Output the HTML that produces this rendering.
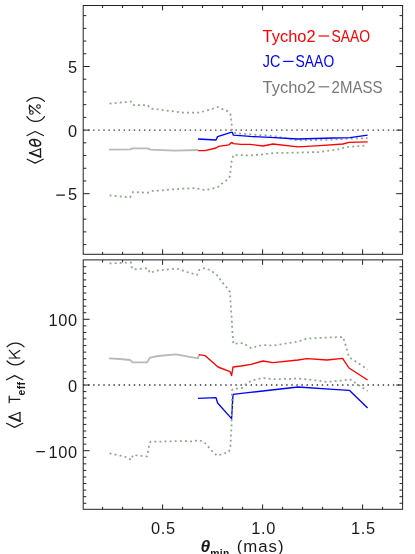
<!DOCTYPE html>
<html><head><meta charset="utf-8"><title>plot</title>
<style>html,body{margin:0;padding:0;background:#fff;}svg{display:block;will-change:transform;}text{font-family:"Liberation Sans",sans-serif;}</style>
</head><body>
<svg width="415" height="554" viewBox="0 0 415 554">
<rect width="415" height="554" fill="#fff"/>
<line x1="83.0" y1="130.1" x2="402.6" y2="130.1" stroke="#333" stroke-width="1.3" stroke-dasharray="1.4 3.68"/>
<line x1="83.0" y1="385.0" x2="402.6" y2="385.0" stroke="#333" stroke-width="1.3" stroke-dasharray="1.4 3.68"/>
<polyline points="109.6,103.6 131.0,101.6 132.6,105.0 147.6,105.0 150.6,108.6 158.0,109.4 183.0,112.6 199.0,112.6 205.0,111.0 211.0,109.4 218.0,107.0 223.0,109.4 228.0,111.4 230.4,114.0 231.6,122.0 231.9,130.0 233.0,132.6 240.0,133.6 250.0,134.4 274.0,136.0 284.0,138.0 298.0,140.4 333.0,139.6 350.0,138.6 367.6,138.2" fill="none" stroke="#88a688" stroke-width="1.75" stroke-dasharray="1.9 3.2" stroke-linejoin="round"/>
<polyline points="109.6,195.4 130.0,197.4 133.0,192.0 147.6,192.8 151.0,191.0 158.0,190.6 183.0,188.6 195.0,188.0 199.0,189.0 205.0,190.0 211.0,189.0 218.0,187.0 223.0,182.6 228.0,179.4 230.0,176.0 231.0,166.0 232.0,159.0 233.4,155.0 250.0,155.4 263.0,154.4 274.0,153.0 298.0,152.6 320.0,152.0 338.0,149.4 346.0,147.0 367.6,145.4" fill="none" stroke="#88a688" stroke-width="1.75" stroke-dasharray="1.9 3.2" stroke-linejoin="round"/>
<polyline points="109.0,149.6 130.0,149.4 132.6,148.4 147.6,148.4 150.4,149.6 175.0,150.6 198.0,150.0" fill="none" stroke="#bab8ba" stroke-width="1.8" stroke-linejoin="round" stroke-linecap="butt"/>
<polyline points="198.0,150.6 205.0,150.6 216.0,148.0 218.6,146.4 229.0,144.8 231.6,142.4 233.4,143.6 241.0,144.4 250.0,144.4 263.0,146.0 273.0,144.0 298.0,146.8 320.0,145.6 343.0,144.0 349.0,142.4 367.6,141.8" fill="none" stroke="#ff0000" stroke-width="1.35" stroke-linejoin="round" stroke-linecap="butt"/>
<polyline points="198.0,139.0 216.0,140.0 217.6,136.6 231.0,132.4 232.4,132.4 233.4,135.2 250.0,136.4 270.0,137.4 298.0,139.0 333.0,138.0 350.0,137.6 367.6,135.2" fill="none" stroke="#0000ff" stroke-width="1.35" stroke-linejoin="round" stroke-linecap="butt"/>
<polyline points="109.0,358.4 120.0,359.0 130.0,360.0 132.6,362.4 147.0,362.4 150.0,357.6 158.0,356.0 176.0,354.4 198.0,358.4 199.0,354.6" fill="none" stroke="#bab8ba" stroke-width="1.8" stroke-linejoin="round" stroke-linecap="butt"/>
<polyline points="199.0,354.6 205.0,355.6 218.0,367.0 230.0,371.6 231.6,375.6 233.0,367.0 241.0,366.0 251.0,364.4 263.0,361.0 273.0,362.6 298.0,360.0 307.0,358.6 327.0,360.0 342.6,358.4 349.0,368.0 367.6,380.0" fill="none" stroke="#ff0000" stroke-width="1.35" stroke-linejoin="round" stroke-linecap="butt"/>
<polyline points="198.0,398.4 216.0,397.6 217.6,403.0 231.6,418.6 233.0,394.4 250.0,392.4 298.0,387.0 333.0,389.4 349.6,390.4 367.6,408.0" fill="none" stroke="#0000ff" stroke-width="1.35" stroke-linejoin="round" stroke-linecap="butt"/>
<polyline points="109.6,263.4 131.0,262.4 131.6,267.0 133.0,269.4 147.6,268.2 150.0,273.0 156.0,270.6 168.0,269.4 177.0,268.6 187.0,272.0 197.0,275.0 199.0,270.0 205.0,268.0 211.0,270.6 217.0,275.0 222.0,282.0 228.0,289.0 230.0,292.0 230.6,303.0 231.6,317.0 232.6,335.0 233.4,344.0 239.0,343.0 243.0,343.0 251.0,348.0 258.0,346.0 263.0,345.0 273.0,345.6 298.0,341.6 307.0,338.6 327.0,337.6 343.0,337.0 345.0,343.0 349.0,357.0 358.0,363.0 367.6,369.4" fill="none" stroke="#88a688" stroke-width="1.75" stroke-dasharray="1.9 3.2" stroke-linejoin="round"/>
<polyline points="109.6,453.4 120.0,455.6 128.0,457.6 131.0,460.0 133.0,455.0 147.0,456.4 148.0,451.0 149.0,446.0 150.6,441.6 158.0,441.6 183.0,441.0 193.0,441.4 199.0,440.0 205.0,443.0 212.0,451.0 217.0,455.6 223.0,454.0 229.0,451.6 230.4,446.0 231.6,424.0 232.0,390.0 234.0,388.6 239.0,388.6 243.0,387.6 246.0,384.0 251.0,381.0 258.0,379.0 263.0,378.0 273.0,379.2 298.0,378.6 307.0,379.2 327.0,382.0 343.0,380.4 349.6,379.2 354.0,382.0 362.0,387.4 367.6,391.0" fill="none" stroke="#88a688" stroke-width="1.75" stroke-dasharray="1.9 3.2" stroke-linejoin="round"/>
<rect x="83.2" y="5.5" width="319.40000000000003" height="248.8" fill="none" stroke="#222" stroke-width="1"/>
<rect x="83.2" y="259.9" width="319.40000000000003" height="249.40000000000003" fill="none" stroke="#222" stroke-width="1"/>
<path d="M102.6,5.5v2.5M102.6,254.3v-2.5M122.6,5.5v2.5M122.6,254.3v-2.5M142.6,5.5v2.5M142.6,254.3v-2.5M162.6,5.5v4.9M162.6,254.3v-4.9M182.6,5.5v2.5M182.6,254.3v-2.5M202.6,5.5v2.5M202.6,254.3v-2.5M222.6,5.5v2.5M222.6,254.3v-2.5M242.6,5.5v2.5M242.6,254.3v-2.5M262.6,5.5v4.9M262.6,254.3v-4.9M282.6,5.5v2.5M282.6,254.3v-2.5M302.6,5.5v2.5M302.6,254.3v-2.5M322.6,5.5v2.5M322.6,254.3v-2.5M342.6,5.5v2.5M342.6,254.3v-2.5M362.6,5.5v4.9M362.6,254.3v-4.9M382.6,5.5v2.5M382.6,254.3v-2.5M102.6,259.9v2.5M102.6,509.3v-2.5M122.6,259.9v2.5M122.6,509.3v-2.5M142.6,259.9v2.5M142.6,509.3v-2.5M162.6,259.9v4.9M162.6,509.3v-4.9M182.6,259.9v2.5M182.6,509.3v-2.5M202.6,259.9v2.5M202.6,509.3v-2.5M222.6,259.9v2.5M222.6,509.3v-2.5M242.6,259.9v2.5M242.6,509.3v-2.5M262.6,259.9v4.9M262.6,509.3v-4.9M282.6,259.9v2.5M282.6,509.3v-2.5M302.6,259.9v2.5M302.6,509.3v-2.5M322.6,259.9v2.5M322.6,509.3v-2.5M342.6,259.9v2.5M342.6,509.3v-2.5M362.6,259.9v4.9M362.6,509.3v-4.9M382.6,259.9v2.5M382.6,509.3v-2.5M83.2,244.58h3.1M402.6,244.58h-3.1M83.2,231.86h3.1M402.6,231.86h-3.1M83.2,219.14h3.1M402.6,219.14h-3.1M83.2,206.42h3.1M402.6,206.42h-3.1M83.2,193.70h6.4M402.6,193.70h-6.4M83.2,180.98h3.1M402.6,180.98h-3.1M83.2,168.26h3.1M402.6,168.26h-3.1M83.2,155.54h3.1M402.6,155.54h-3.1M83.2,142.82h3.1M402.6,142.82h-3.1M83.2,130.10h6.4M402.6,130.10h-6.4M83.2,117.38h3.1M402.6,117.38h-3.1M83.2,104.66h3.1M402.6,104.66h-3.1M83.2,91.94h3.1M402.6,91.94h-3.1M83.2,79.22h3.1M402.6,79.22h-3.1M83.2,66.50h6.4M402.6,66.50h-6.4M83.2,53.78h3.1M402.6,53.78h-3.1M83.2,41.06h3.1M402.6,41.06h-3.1M83.2,28.34h3.1M402.6,28.34h-3.1M83.2,15.62h3.1M402.6,15.62h-3.1M83.2,503.26h3.1M402.6,503.26h-3.1M83.2,496.69h3.1M402.6,496.69h-3.1M83.2,490.12h3.1M402.6,490.12h-3.1M83.2,483.55h3.1M402.6,483.55h-3.1M83.2,476.98h3.1M402.6,476.98h-3.1M83.2,470.41h3.1M402.6,470.41h-3.1M83.2,463.84h3.1M402.6,463.84h-3.1M83.2,457.27h3.1M402.6,457.27h-3.1M83.2,450.70h6.4M402.6,450.70h-6.4M83.2,444.13h3.1M402.6,444.13h-3.1M83.2,437.56h3.1M402.6,437.56h-3.1M83.2,430.99h3.1M402.6,430.99h-3.1M83.2,424.42h3.1M402.6,424.42h-3.1M83.2,417.85h3.1M402.6,417.85h-3.1M83.2,411.28h3.1M402.6,411.28h-3.1M83.2,404.71h3.1M402.6,404.71h-3.1M83.2,398.14h3.1M402.6,398.14h-3.1M83.2,391.57h3.1M402.6,391.57h-3.1M83.2,385.00h6.4M402.6,385.00h-6.4M83.2,378.43h3.1M402.6,378.43h-3.1M83.2,371.86h3.1M402.6,371.86h-3.1M83.2,365.29h3.1M402.6,365.29h-3.1M83.2,358.72h3.1M402.6,358.72h-3.1M83.2,352.15h3.1M402.6,352.15h-3.1M83.2,345.58h3.1M402.6,345.58h-3.1M83.2,339.01h3.1M402.6,339.01h-3.1M83.2,332.44h3.1M402.6,332.44h-3.1M83.2,325.87h3.1M402.6,325.87h-3.1M83.2,319.30h6.4M402.6,319.30h-6.4M83.2,312.73h3.1M402.6,312.73h-3.1M83.2,306.16h3.1M402.6,306.16h-3.1M83.2,299.59h3.1M402.6,299.59h-3.1M83.2,293.02h3.1M402.6,293.02h-3.1M83.2,286.45h3.1M402.6,286.45h-3.1M83.2,279.88h3.1M402.6,279.88h-3.1M83.2,273.31h3.1M402.6,273.31h-3.1M83.2,266.74h3.1M402.6,266.74h-3.1" fill="none" stroke="#222" stroke-width="1"/>
<text x="77.9" y="72.7" font-size="16.4" text-anchor="end" fill="#1a1a1a" letter-spacing="0.7">5</text>
<text x="77.9" y="136.6" font-size="16.4" text-anchor="end" fill="#1a1a1a" letter-spacing="0.7">0</text>
<text x="77.9" y="200.4" font-size="16.4" text-anchor="end" fill="#1a1a1a" letter-spacing="0.7">5</text>
<text x="77.9" y="326.2" font-size="16.4" text-anchor="end" fill="#1a1a1a" letter-spacing="0.7">100</text>
<text x="77.9" y="392.1" font-size="16.4" text-anchor="end" fill="#1a1a1a" letter-spacing="0.7">0</text>
<text x="77.9" y="457.6" font-size="16.4" text-anchor="end" fill="#1a1a1a" letter-spacing="0.7">100</text>
<path d="M56.3,195.1H64.9M36.3,451.6H44.9" stroke="#1a1a1a" stroke-width="1.25" fill="none"/>
<text x="163.4" y="533.5" font-size="16.4" text-anchor="middle" fill="#1a1a1a" letter-spacing="0.7">0.5</text>
<text x="263.6" y="533.5" font-size="16.4" text-anchor="middle" fill="#1a1a1a" letter-spacing="0.7">1.0</text>
<text x="363.4" y="533.5" font-size="16.4" text-anchor="middle" fill="#1a1a1a" letter-spacing="0.7">1.5</text>
<text x="262.6" y="41.7" font-size="16.6" fill="#ff0000" textLength="53.0" lengthAdjust="spacingAndGlyphs">Tycho2</text>
<line x1="318.6" y1="36.0" x2="329.2" y2="36.0" stroke="#ff0000" stroke-width="1.2"/>
<text x="331.4" y="41.7" font-size="16.6" fill="#ff0000" textLength="38.6" lengthAdjust="spacingAndGlyphs">SAAO</text>
<text x="262.8" y="67.1" font-size="16.6" fill="#0000ff" textLength="17.6" lengthAdjust="spacingAndGlyphs">JC</text>
<line x1="283.2" y1="61.39999999999999" x2="293.6" y2="61.39999999999999" stroke="#0000ff" stroke-width="1.2"/>
<text x="295.6" y="67.1" font-size="16.6" fill="#0000ff" textLength="38.6" lengthAdjust="spacingAndGlyphs">SAAO</text>
<text x="262.6" y="92.5" font-size="16.6" fill="#787878" textLength="53.0" lengthAdjust="spacingAndGlyphs">Tycho2</text>
<line x1="318.6" y1="86.8" x2="329.2" y2="86.8" stroke="#787878" stroke-width="1.2"/>
<text x="331.6" y="92.5" font-size="16.6" fill="#787878" textLength="50.8" lengthAdjust="spacingAndGlyphs">2MASS</text>
<text x="200.4" y="552.4" font-size="17.4" fill="#1a1a1a"><tspan font-weight="bold" font-style="italic">&#952;</tspan><tspan font-size="10.4" font-weight="bold" dy="4.6" dx="0.2" letter-spacing="0.3">min</tspan><tspan font-size="16.8" dy="-4.6" dx="7.0" letter-spacing="1.0">(mas)</tspan></text>
<path d="M26.9,101.4A12.1,12.1 0 0 1 44.5,101.4" fill="none" stroke="#1a1a1a" stroke-width="1.2" stroke-linecap="round" stroke-linejoin="round" />
<path d="M29.6,105.2L40,113.6M29.6,105.2Q28.6,109 30.2,111" fill="none" stroke="#1a1a1a" stroke-width="1.2" stroke-linecap="round" stroke-linejoin="round" />
<circle cx="38.5" cy="106.5" r="1.8" fill="none" stroke="#1a1a1a" stroke-width="1.15"/>
<circle cx="31.4" cy="112.5" r="1.8" fill="none" stroke="#1a1a1a" stroke-width="1.15"/>
<path d="M26.9,116.6A10.5,10.5 0 0 0 44.5,116.6" fill="none" stroke="#1a1a1a" stroke-width="1.2" stroke-linecap="round" stroke-linejoin="round" />
<path d="M27.1,135.5L35.1,131.5L43.4,135.5" fill="none" stroke="#1a1a1a" stroke-width="1.2" stroke-linecap="round" stroke-linejoin="round" />
<ellipse cx="35.1" cy="142.8" rx="5.6" ry="3.1" fill="none" stroke="#1a1a1a" stroke-width="1.6" transform="rotate(12 35.1 142.8)"/>
<path d="M33.9,139.6L35.6,145.8" fill="none" stroke="#1a1a1a" stroke-width="1.5" stroke-linecap="round" stroke-linejoin="round" />
<path d="M29.8,152.9L40.5,148.7" fill="none" stroke="#1a1a1a" stroke-width="1.1" stroke-linecap="round" stroke-linejoin="round" />
<path d="M40.5,148.7L40.5,156.8" fill="none" stroke="#1a1a1a" stroke-width="1.3" stroke-linecap="round" stroke-linejoin="round" />
<path d="M29.8,152.9L40.5,156.8" fill="none" stroke="#1a1a1a" stroke-width="1.9" stroke-linecap="round" stroke-linejoin="round" />
<path d="M27.2,159.2L35.1,163.1L43.2,159.2" fill="none" stroke="#1a1a1a" stroke-width="1.2" stroke-linecap="round" stroke-linejoin="round" />
<path d="M7.0,346.9A11.5,11.5 0 0 1 24.1,346.9" fill="none" stroke="#1a1a1a" stroke-width="1.2" stroke-linecap="round" stroke-linejoin="round" />
<path d="M9.2,358L19.8,358M9.2,350.2L16.4,358M13.4,354.8L19.8,350.4" fill="none" stroke="#1a1a1a" stroke-width="1.2" stroke-linecap="round" stroke-linejoin="round" />
<path d="M7.0,361A11.5,11.5 0 0 0 24.1,361" fill="none" stroke="#1a1a1a" stroke-width="1.2" stroke-linecap="round" stroke-linejoin="round" />
<path d="M6.5,379.7L14.6,375.6L22.8,379.7" fill="none" stroke="#1a1a1a" stroke-width="1.2" stroke-linecap="round" stroke-linejoin="round" />
<text transform="translate(24.6,395.4) rotate(-90)" font-size="10.4" font-weight="bold" fill="#1a1a1a" letter-spacing="0.3">eff</text>
<path d="M9.2,396.1L9.2,402.7M9.2,399.4L19.8,399.4" fill="none" stroke="#1a1a1a" stroke-width="1.2" stroke-linecap="round" stroke-linejoin="round" />
<path d="M9.3,416.8L20,412.5" fill="none" stroke="#1a1a1a" stroke-width="1.1" stroke-linecap="round" stroke-linejoin="round" />
<path d="M20,412.5L20,421.1" fill="none" stroke="#1a1a1a" stroke-width="1.3" stroke-linecap="round" stroke-linejoin="round" />
<path d="M9.3,416.8L20,421.1" fill="none" stroke="#1a1a1a" stroke-width="1.9" stroke-linecap="round" stroke-linejoin="round" />
<path d="M6.5,423.3L14.6,427.4L22.8,423.3" fill="none" stroke="#1a1a1a" stroke-width="1.2" stroke-linecap="round" stroke-linejoin="round" />
</svg></body></html>
